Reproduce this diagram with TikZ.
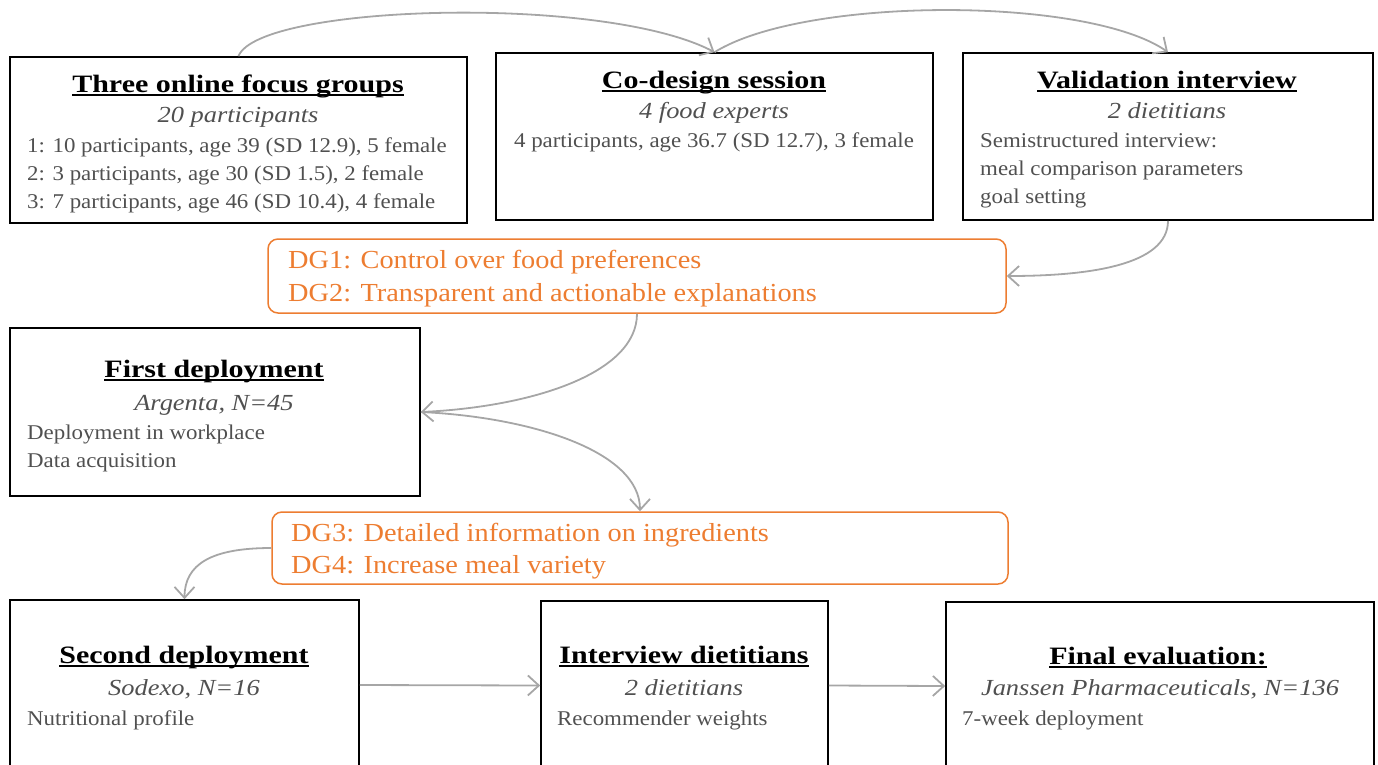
\documentclass[tikz,border=0pt]{standalone}
\usepackage{fontspec}
\setmainfont{Liberation Serif}[FakeStretch=1.09, BoldFeatures={FakeStretch=1.2}, ItalicFeatures={FakeStretch=1.15}]
\usetikzlibrary{arrows.meta}
\definecolor{dgorange}{HTML}{ED7D31}
\definecolor{bodygray}{HTML}{505050}
\definecolor{arrowgray}{HTML}{A6A6A6}
\newcommand{\ulbox}[1]{\setbox0\hbox{#1}\rlap{\rule[-4pt]{\wd0}{1.8pt}}\box0}
\begin{document}
\begin{tikzpicture}[x=1pt, y=1pt,
    box/.style={draw=black, line width=1.6pt, rectangle, inner sep=0pt},
    dgbox/.style={draw=dgorange, line width=1.5pt, rounded corners=10pt, inner sep=0pt},
    title/.style={anchor=base, font=\fontsize{25}{30}\selectfont\bfseries, text=black, inner sep=0pt},
    sub/.style={anchor=base, font=\fontsize{23}{28}\selectfont\itshape, text=bodygray, inner sep=0pt},
    body/.style={anchor=base west, font=\fontsize{21}{28}\selectfont, text=bodygray, inner sep=0pt},
    dgtext/.style={anchor=base west, font=\fontsize{26}{32}\selectfont, text=dgorange, inner sep=0pt},
    flow/.style={draw=arrowgray, line width=1.8pt, -{Straight Barb[length=11pt, width=20pt]}}]
    \useasboundingbox (0,0) rectangle (1378,-764);
    \clip (0,0) rectangle (1378,-764);

    % Boxes
    \node[box, minimum width=457pt, minimum height=166pt] (focus) at (238.5,-140) {};
    \node[box, minimum width=437pt, minimum height=167pt] (codesign) at (714.5,-136.5) {};
    \node[box, minimum width=410pt, minimum height=167pt] (valid) at (1168,-136.5) {};
    \node[dgbox, minimum width=738pt, minimum height=74pt] (dgone) at (637,-276) {};
    \node[box, minimum width=410pt, minimum height=168pt] (first) at (215,-412) {};
    \node[dgbox, minimum width=736pt, minimum height=72pt] (dgtwo) at (640,-548) {};
    \node[box, minimum width=349pt, minimum height=170pt] (second) at (184.5,-685) {};
    \node[box, minimum width=287pt, minimum height=169pt] (interview) at (684.5,-685.5) {};
    \node[box, minimum width=428pt, minimum height=168pt] (final) at (1160,-686) {};

    % Focus groups
    \node[title] (focustitle) at (238,-92) {\ulbox{Three online focus groups}};
    \node[sub] (focussub) at (238,-122) {20 participants};
    \node[body] (focusa) at (27,-152) {1: 10 participants, age 39 (SD 12.9), 5 female};
    \node[body] (focusb) at (27,-180) {2: 3 participants, age 30 (SD 1.5), 2 female};
    \node[body] (focusc) at (27,-208) {3: 7 participants, age 46 (SD 10.4), 4 female};

    % Co-design
    \node[title] (codesigntitle) at (714,-88) {\ulbox{Co-design session}};
    \node[sub] (codesignsub) at (714,-118) {4 food experts};
    \node[body, anchor=base] (codesigna) at (714,-147) {4 participants, age 36.7 (SD 12.7), 3 female};

    % Validation
    \node[title] (validtitle) at (1167,-88) {\ulbox{Validation interview}};
    \node[sub] (validsub) at (1167,-118) {2 dietitians};
    \node[body] (valida) at (980,-147) {Semistructured interview:};
    \node[body] (validb) at (980,-175) {meal comparison parameters};
    \node[body] (validc) at (980,-203) {goal setting};

    % Design goals
    \node[dgtext] (dga) at (288,-268) {DG1: Control over food preferences};
    \node[dgtext] (dgb) at (288,-301) {DG2: Transparent and actionable explanations};
    \node[dgtext] (dgc) at (291,-541) {DG3: Detailed information on ingredients};
    \node[dgtext] (dgd) at (291,-573) {DG4: Increase meal variety};

    % First deployment
    \node[title] (firsttitle) at (214,-377) {\ulbox{First deployment}};
    \node[sub] (firstsub) at (214,-410) {Argenta, N=45};
    \node[body] (firsta) at (27,-439) {Deployment in workplace};
    \node[body] (firstb) at (27,-467) {Data acquisition};

    % Bottom row
    \node[title] (secondtitle) at (184,-663) {\ulbox{Second deployment}};
    \node[sub] (secondsub) at (184,-695) {Sodexo, N=16};
    \node[body] (seconda) at (27,-725) {Nutritional profile};
    \node[title] (interviewtitle) at (684,-663) {\ulbox{Interview dietitians}};
    \node[sub] (interviewsub) at (684,-695) {2 dietitians};
    \node[body] (interviewa) at (557,-725) {Recommender weights};
    \node[title] (finaltitle) at (1158,-664) {\ulbox{Final evaluation:}};
    \node[sub] (finalsub) at (1160,-695) {Janssen Pharmaceuticals, N=136};
    \node[body] (finala) at (962,-725) {7-week deployment};

    % Connectors
    \draw[flow] (focus.north) .. controls +(20,52) and +(-110,58) .. (codesign.north);
    \draw[flow] (codesign.north) .. controls +(90,56) and +(-80,56) .. (valid.north);
    \draw[flow] (valid.south) .. controls +(0,-45) and +(80,0) .. (dgone.east);
    \draw[flow] (dgone.south) .. controls +(0,-60) and +(110,5) .. (first.east);
    \draw[flow] (first.east) .. controls +(110,-5) and +(0,60) .. (dgtwo.north);
    \draw[flow] (dgtwo.west) .. controls +(-60,0) and +(0,35) .. (second.north);
    \draw[flow] (second.east) -- (interview.west);
    \draw[flow] (interview.east) -- (final.west);
\end{tikzpicture}
\end{document}
